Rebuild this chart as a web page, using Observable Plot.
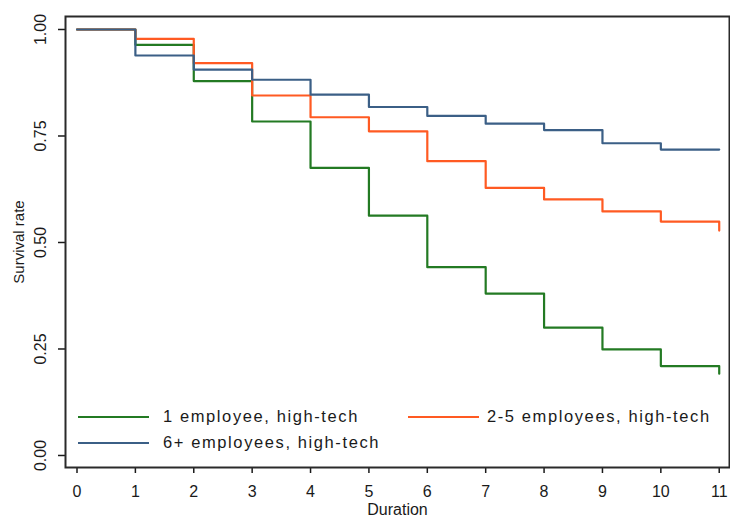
<!DOCTYPE html>
<html>
<head>
<meta charset="utf-8">
<script src="https://cdn.jsdelivr.net/npm/d3@7"></script>
<script src="https://cdn.jsdelivr.net/npm/@observablehq/plot@0.6"></script>
<style>
  html, body { margin: 0; padding: 0; background: #fff; }
  #wrap { position: relative; width: 730px; height: 516px; font-family: "Liberation Sans", Arial, sans-serif; }
  #legend { position: absolute; left: 0; top: 0; width: 730px; height: 516px; pointer-events: none; }
  .lg { position: absolute; font-size: 16.5px; letter-spacing: 1.6px; color: #1a1a1a; line-height: 1; white-space: nowrap; }
  .lgline { position: absolute; height: 2px; }
</style>
</head>
<body>
<div id="wrap"><div id="chart"></div><div id="legend"></div></div>
<script>
const durations = [0, 1, 2, 3, 4, 5, 6, 7, 8, 9, 10, 11];
const seriesNames = ["1 employee, high-tech", "2-5 employees, high-tech", "6+ employees, high-tech"];
const seriesColors = ["#237a23", "#ff5a22", "#3b5f86"];
const oneEmployee   = [1.000, 0.964, 0.879, 0.784, 0.675, 0.563, 0.442, 0.380, 0.300, 0.249, 0.210, 0.192];
const twoToFive     = [1.000, 0.978, 0.921, 0.845, 0.794, 0.761, 0.691, 0.628, 0.601, 0.573, 0.549, 0.528];
const sixPlus       = [1.000, 0.939, 0.906, 0.882, 0.847, 0.818, 0.797, 0.779, 0.764, 0.733, 0.718, 0.718];
const yTicks = [0, 0.25, 0.5, 0.75, 1];
const yTickLabels = ["0.00", "0.25", "0.50", "0.75", "1.00"];
const xLabel = "Duration";
const yLabel = "Survival rate";

const allSeries = [oneEmployee, twoToFive, sixPlus];
const rows = [];
allSeries.forEach((vals, i) => {
  vals.forEach((v, j) => rows.push({series: seriesNames[i], t: durations[j], s: v}));
});
const yTickData = yTicks.map((v, i) => ({v, label: yTickLabels[i]}));

const font = "'Liberation Sans', Arial, sans-serif";
const chart = Plot.plot({
  width: 730,
  height: 516,
  marginLeft: 65,
  marginRight: 1,
  marginTop: 16,
  marginBottom: 49,
  style: {fontFamily: font, fontSize: "16px", color: "#1a1a1a", background: "#fff"},
  x: {domain: [-0.197, 11.176]},
  y: {domain: [-0.0282, 1.0305]},
  color: {domain: seriesNames, range: seriesColors},
  marks: [
    Plot.axisX({ticks: durations, tickSize: 6, tickPadding: 12, tickFormat: d => String(d), label: null, fontSize: 16, stroke: "#1a1a1a", strokeWidth: 1.5, style: "letter-spacing:0.8px"}),
    Plot.axisY({ticks: yTicks, tickSize: 7, tickFormat: () => "", label: null, stroke: "#1a1a1a", strokeWidth: 1.5}),
    Plot.text(yTickData, {y: "v", text: "label", frameAnchor: "left", dx: -25, rotate: -90, fontSize: 16, fill: "#1a1a1a", textAnchor: "middle", lineAnchor: "middle", style: "letter-spacing:1.4px"}),
    Plot.text([yLabel], {text: d => d, frameAnchor: "left", dx: -46, rotate: -90, fontSize: 15, fill: "#1a1a1a", textAnchor: "middle", lineAnchor: "middle"}),
    Plot.text([xLabel], {text: d => d, frameAnchor: "bottom", dy: 47, fontSize: 16, fill: "#1a1a1a", lineAnchor: "bottom", textAnchor: "middle", style: "letter-spacing:0.6px"}),
    Plot.frame({stroke: "#2a2a2a", strokeWidth: 2}),
    Plot.line(rows, {x: "t", y: "s", z: "series", stroke: "series", curve: "step-after", strokeWidth: 2.2})
  ]
});
document.getElementById("chart").appendChild(chart);

// legend overlay (inside the plot area, bottom)
const legendPos = [
  {lx: 78, ly: 417, tx: 163},
  {lx: 408, ly: 417, tx: 487},
  {lx: 78, ly: 443, tx: 163}
];
const lg = document.getElementById("legend");
seriesNames.forEach((name, i) => {
  const p = legendPos[i];
  const line = document.createElement("div");
  line.className = "lgline";
  line.style.left = p.lx + "px";
  line.style.top = (p.ly - 1) + "px";
  line.style.width = "71px";
  line.style.background = seriesColors[i];
  lg.appendChild(line);
  const t = document.createElement("div");
  t.className = "lg";
  t.style.left = p.tx + "px";
  t.style.top = (p.ly - 9) + "px";
  t.textContent = name;
  lg.appendChild(t);
});
</script>
</body>
</html>
